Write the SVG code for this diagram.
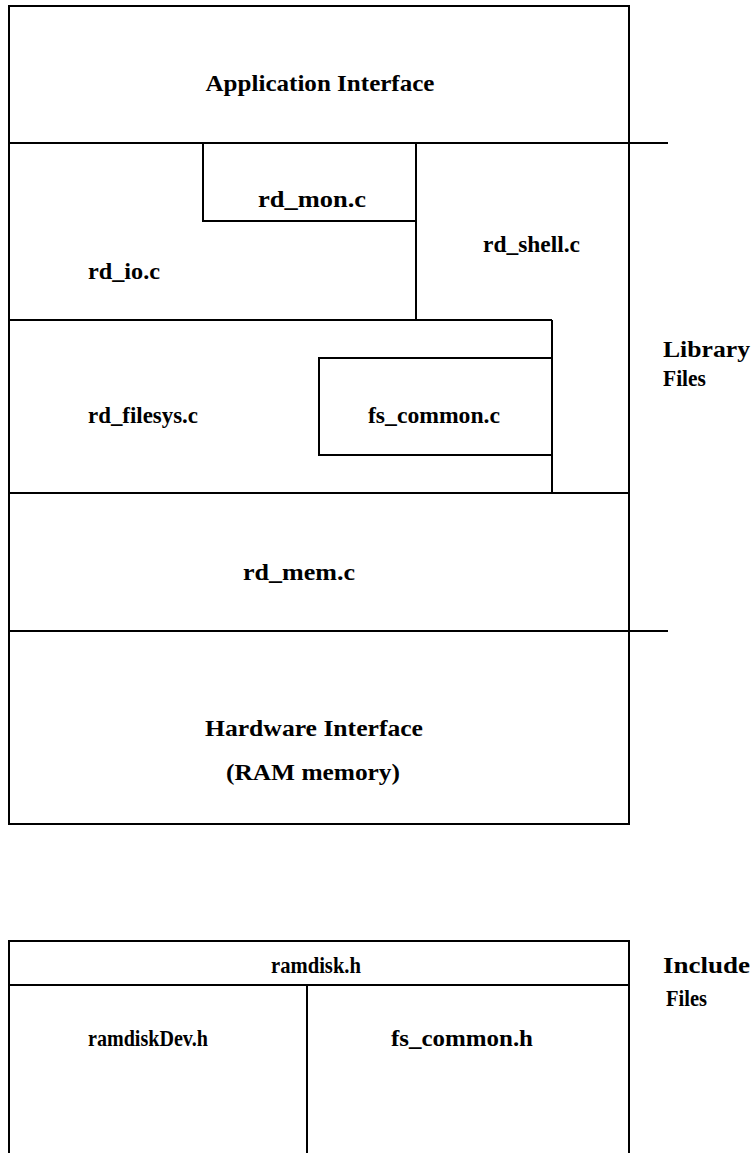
<svg xmlns="http://www.w3.org/2000/svg" width="753" height="1153" viewBox="0 0 753 1153">
<style>
.b{fill:none;stroke:#000;stroke-width:2}
.t{font-family:"Liberation Serif","Times New Roman",serif;font-weight:bold;font-size:24px;fill:#000}
.c{text-anchor:middle}
</style>
<rect width="753" height="1153" fill="#fff"/>
<g id="lines">
<rect class="b" x="9" y="6" width="620" height="818"/>
<line class="b" x1="9" y1="143" x2="668" y2="143"/>
<line class="b" x1="416" y1="143" x2="416" y2="320"/>
<line class="b" x1="9" y1="320" x2="552" y2="320"/>
<line class="b" x1="552" y1="320" x2="552" y2="493"/>
<line class="b" x1="9" y1="493" x2="629" y2="493"/>
<line class="b" x1="9" y1="631" x2="668" y2="631"/>
</g>
<g id="app"><text class="t c" x="320" y="91" textLength="229" lengthAdjust="spacingAndGlyphs">Application Interface</text></g>
<g id="rd_mon"><rect class="b" x="203" y="143" width="213" height="78"/><text class="t c" x="312" y="207" textLength="108" lengthAdjust="spacingAndGlyphs">rd_mon.c</text></g>
<g id="rd_shell"><text class="t" x="483" y="252" textLength="97" lengthAdjust="spacingAndGlyphs">rd_shell.c</text></g>
<g id="rd_io"><text class="t" x="88" y="279" textLength="72" lengthAdjust="spacingAndGlyphs">rd_io.c</text></g>
<g id="rd_filesys"><text class="t" x="88" y="423" textLength="110" lengthAdjust="spacingAndGlyphs">rd_filesys.c</text></g>
<g id="fs_common_c"><rect class="b" x="319" y="358" width="233" height="97"/><text class="t" x="368" y="423" textLength="132" lengthAdjust="spacingAndGlyphs">fs_common.c</text></g>
<g id="lib"><text class="t" x="663" y="357" textLength="87" lengthAdjust="spacingAndGlyphs">Library</text><text class="t" x="663" y="386" textLength="43" lengthAdjust="spacingAndGlyphs">Files</text></g>
<g id="rd_mem"><text class="t c" x="299" y="580" textLength="112" lengthAdjust="spacingAndGlyphs">rd_mem.c</text></g>
<g id="hw"><text class="t c" x="314" y="736" textLength="218" lengthAdjust="spacingAndGlyphs">Hardware Interface</text><text class="t c" x="313" y="780" textLength="174" lengthAdjust="spacingAndGlyphs">(RAM memory)</text></g>
<g id="include">
<rect class="b" x="9" y="941" width="620" height="230"/>
<line class="b" x1="9" y1="985" x2="629" y2="985"/>
<line class="b" x1="307" y1="985" x2="307" y2="1153"/>
</g>
<g id="ramdisk"><text class="t c" x="316" y="973" textLength="90" lengthAdjust="spacingAndGlyphs">ramdisk.h</text></g>
<g id="ramdiskDev"><text class="t c" x="148" y="1046" textLength="120" lengthAdjust="spacingAndGlyphs">ramdiskDev.h</text></g>
<g id="fs_common_h"><text class="t c" x="462" y="1046" textLength="142" lengthAdjust="spacingAndGlyphs">fs_common.h</text></g>
<g id="inc"><text class="t" x="663" y="973" textLength="87" lengthAdjust="spacingAndGlyphs">Include</text><text class="t" x="666" y="1006" textLength="41" lengthAdjust="spacingAndGlyphs">Files</text></g>
</svg>
